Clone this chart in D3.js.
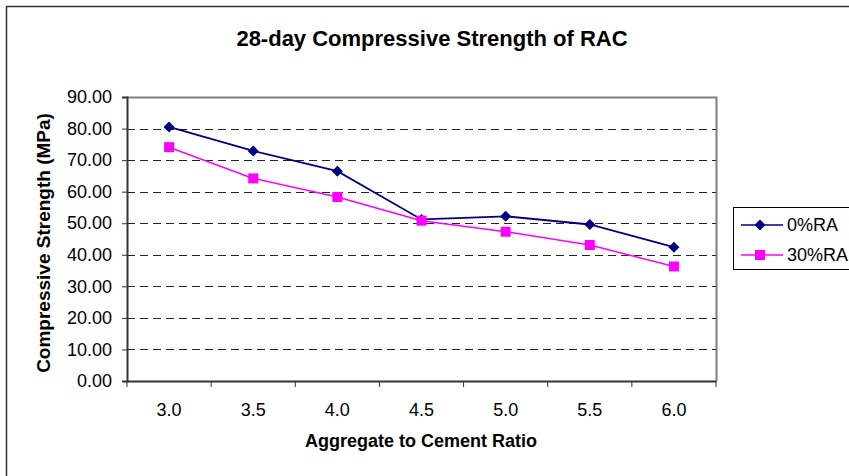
<!DOCTYPE html>
<html>
<head>
<meta charset="utf-8">
<script src="https://cdn.jsdelivr.net/npm/d3@7"></script>
<style>
  body { margin: 0; background: #fff; }
  text { font-family: "Liberation Sans", Arial, sans-serif; fill: #000; }
</style>
</head>
<body>
<div id="chart"></div>
<script>
// Data
var ratios = ["3.0", "3.5", "4.0", "4.5", "5.0", "5.5", "6.0"];
var ra0 = [80.5, 72.9, 66.5, 51.2, 52.2, 49.6, 42.4];
var ra30 = [74.1, 64.2, 58.3, 50.8, 47.3, 43.1, 36.3];
var yTicks = [0, 10, 20, 30, 40, 50, 60, 70, 80, 90];
var seriesNames = ["0%RA", "30%RA"];

var svgWidth = 849;
var svgHeight = 476;

var margin = { top: 97, left: 127 };
var width = 589;
var height = 284;

var svg = d3.select("#chart")
  .append("svg")
  .attr("width", svgWidth)
  .attr("height", svgHeight);

// outer chart frame
svg.append("rect")
  .attr("x", 6.5).attr("y", 6.5)
  .attr("width", 900).attr("height", 500)
  .attr("fill", "#fff")
  .attr("stroke", "#333")
  .attr("stroke-width", 1.5);

svg.append("text")
  .attr("x", 432).attr("y", 46)
  .attr("text-anchor", "middle")
  .attr("font-size", 22)
  .attr("font-weight", "bold")
  .text("28-day Compressive Strength of RAC");

var chartGroup = svg.append("g")
  .attr("transform", `translate(${margin.left}, ${margin.top})`);

var xBand = d3.scaleBand().domain(ratios).range([0, width]);
var yScale = d3.scaleLinear().domain([0, 90]).range([height, 0]);

// plot area frame (top / right in grey)
chartGroup.append("path")
  .attr("d", `M0,0.5H${width + 0.5}V${height}`)
  .attr("fill", "none")
  .attr("stroke", "#808080")
  .attr("stroke-width", 2);

// gridlines
chartGroup.selectAll("line.grid")
  .data(yTicks.filter(d => d > 0 && d < 90))
  .enter()
  .append("line")
  .attr("class", "grid")
  .attr("x1", 0).attr("x2", width)
  .attr("y1", d => Math.round(yScale(d)) + 0.5)
  .attr("y2", d => Math.round(yScale(d)) + 0.5)
  .attr("stroke", "#222")
  .attr("stroke-dasharray", "8,5");

// y axis
var yAxis = d3.axisLeft(yScale)
  .tickValues(yTicks)
  .tickSize(5)
  .tickPadding(10)
  .tickFormat(d3.format(".2f"));

var yG = chartGroup.append("g").call(yAxis);
yG.attr("font-size", 18).attr("font-family", "Liberation Sans, Arial");
yG.select(".domain").attr("stroke", "#333").attr("stroke-width", 2);
yG.selectAll(".tick line").attr("stroke", "#333");

// x axis with ticks at category boundaries
var xAxis = d3.axisBottom(xBand).tickSize(0).tickPadding(22);
var xG = chartGroup.append("g")
  .attr("transform", `translate(0, ${height})`)
  .call(xAxis);
xG.attr("font-size", 18).attr("font-family", "Liberation Sans, Arial");
xG.select(".domain").attr("stroke", "#333").attr("stroke-width", 2);

chartGroup.selectAll("line.xtick")
  .data(ratios.concat(["end"]))
  .enter()
  .append("line")
  .attr("class", "xtick")
  .attr("x1", (d, i) => i * xBand.step())
  .attr("x2", (d, i) => i * xBand.step())
  .attr("y1", height).attr("y2", height + 6)
  .attr("stroke", "#333");

// axis titles
chartGroup.append("text")
  .attr("x", 294)
  .attr("y", height + 66)
  .attr("text-anchor", "middle")
  .attr("font-size", 18)
  .attr("font-weight", "bold")
  .text("Aggregate to Cement Ratio");

chartGroup.append("text")
  .attr("transform", "rotate(-90)")
  .attr("x", -146)
  .attr("y", -77)
  .attr("text-anchor", "middle")
  .attr("font-size", 19)
  .attr("font-weight", "bold")
  .text("Compressive Strength (MPa)");

// lines
var line = d3.line()
  .x((d, i) => xBand(ratios[i]) + xBand.bandwidth() / 2)
  .y(d => yScale(d));

var colors = ["#000080", "#ff00ff"];
var diamond = "M0,-5.5L5.5,0L0,5.5L-5.5,0Z";
var square = "M-5,-5H5V5H-5Z";

[ra0, ra30].forEach(function (vals, s) {
  chartGroup.append("path")
    .datum(vals)
    .attr("fill", "none")
    .attr("stroke", colors[s])
    .attr("stroke-width", s === 0 ? 1.8 : 1.5)
    .attr("d", line);

  chartGroup.selectAll("path.m" + s)
    .data(vals)
    .enter()
    .append("path")
    .attr("class", "m" + s)
    .attr("transform", (d, i) => `translate(${xBand(ratios[i]) + xBand.bandwidth() / 2}, ${yScale(d)})`)
    .attr("d", s === 0 ? diamond : square)
    .attr("fill", colors[s]);
});

// legend
var legend = svg.append("g").attr("transform", "translate(733, 207)");
legend.append("rect")
  .attr("x", 0.5).attr("y", 0.5)
  .attr("width", 140).attr("height", 62)
  .attr("fill", "#fff")
  .attr("stroke", "#000");

seriesNames.forEach(function (name, s) {
  var yy = 18 + s * 30;
  legend.append("line")
    .attr("x1", 8).attr("x2", 50)
    .attr("y1", yy).attr("y2", yy)
    .attr("stroke", colors[s])
    .attr("stroke-width", 1.5);
  legend.append("path")
    .attr("transform", `translate(27, ${yy})`)
    .attr("d", s === 0 ? diamond : square)
    .attr("fill", colors[s]);
  legend.append("text")
    .attr("x", 54).attr("y", yy + 6)
    .attr("font-size", 18)
    .text(name);
});
</script>
</body>
</html>
